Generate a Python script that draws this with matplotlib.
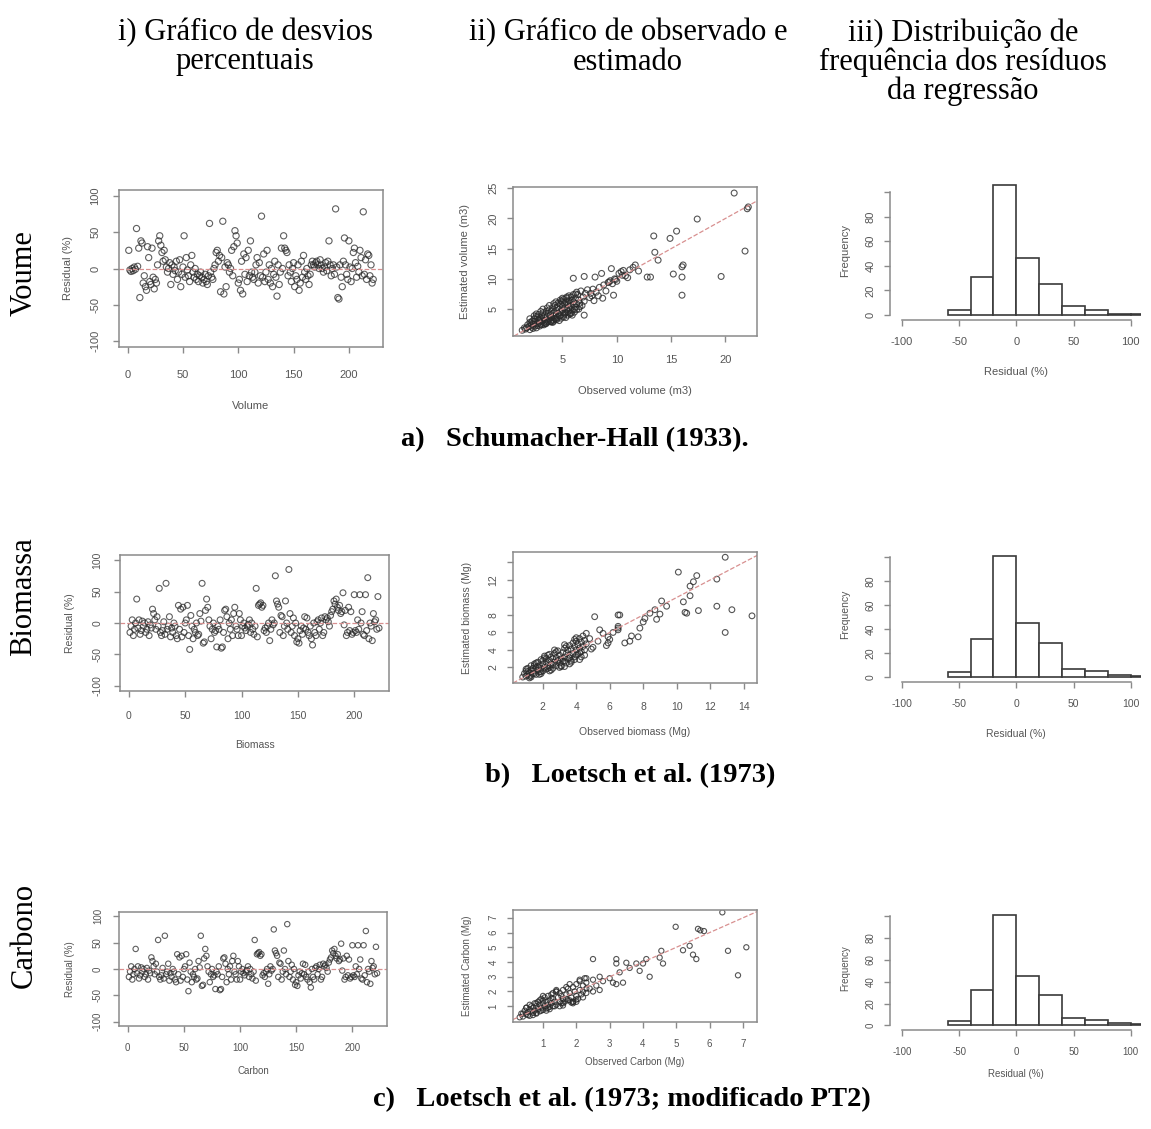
from matplotlib import pyplot as plt
import numpy as np

W, H = 1151, 1129

# ---- data ----
res_vol = [25, -2, -4, 0, -3, 2, -1, 55, 3, 28, -40, 38, 35, -20, -10, -25, -30, 30, 15, -18,
           -22, 28, -12, -28, -15, -20, 5, 38, 45, 32, 22, 10, 25, 12, 2, -5, 0, 8, -22, 5,
           -8, 2, -3, 10, -15, -5, 12, -25, -8, 2, 45, -12, 15, -2, -10, -18, 5, 18, -5, -12,
           0, -15, -8, -18, -10, -5, -12, -20, -15, -8, -18, -22, -10, 62, -5, -12, -15, 0, 5, 22,
           25, 10, 18, -32, 15, 65, -35, 2, -25, 8, 5, -5, 0, 25, -10, 30, 52, 45, 35, -20,
           -15, -30, 10, -35, 20, -8, 15, -18, 25, -10, 38, -5, -12, -15, -5, 5, 15, -20, 8, -10,
           72, -12, 20, -18, -5, 25, -15, 5, -20, 0, -25, -8, 10, -12, -38, 5, -22, -5, 28, 0,
           45, 28, 25, 22, -10, 5, -5, -18, 0, 8, -25, -10, -15, 5, -30, -20, 10, -12, 18, -5,
           -15, 0, -10, -22, -8, 5, 10, 5, 2, 8, 10, 5, 0, 12, 5, 0, -5, 2, 8, -3,
           10, 38, 5, -10, 0, 5, -8, 82, 2, -40, -42, 5, -12, -25, 10, 42, 5, -8, -15, 38,
           2, -18, 0, 22, 28, 8, -12, 3, -5, 25, 15, -10, 78, -8, 12, -15, 20, 18, -10, 5, -20, -15]

res_bio = [-15, -5, 5, -20, -10, 0, 38, -8, 5, -18, -12, 3, -5, 0, -15, -10, 2, -20, -3, -8,
           22, 15, 5, -10, 10, -5, 55, -15, -20, -12, 2, -18, 63, -10, -5, 10, -22, -8, -15, 0,
           -5, -20, -25, 28, -10, 22, -22, 25, -15, 0, 5, 28, -20, -42, 12, -5, -25, -10, -15, 0,
           -20, -18, 15, 3, 63, -32, -30, 20, 38, 25, 5, -5, -25, -10, 0, -15, -12, -38, -5, -10,
           5, -40, -38, -15, 20, 22, 10, -25, 0, -10, 5, -20, 15, 25, -5, -10, -20, 15, 5, -20,
           -5, 0, -8, -12, -5, -2, 5, -15, 0, -10, -18, -5, 55, -22, 28, 30, 32, 25, 28, -12,
           -8, -15, -5, 0, -28, -10, 5, -3, 0, 75, 35, 30, 25, -15, 12, 10, -20, -5, 35, 0,
           -10, 85, 15, -15, -5, 8, -20, 0, -30, -25, -32, -12, -5, -18, -8, 10, -10, 8, -15, -20,
           -5, -25, -35, 0, -15, -20, 2, 5, -10, 0, 8, -20, -15, 10, 5, 8, 2, -5, 12, 18,
           22, 35, 30, 38, 25, 20, 28, 15, 18, 48, -3, 20, -20, -15, 25, -12, 18, -18, -15, 45,
           -12, -15, 5, -10, 45, 0, 18, -18, -20, 45, -12, 72, -25, 0, -5, -28, 15, 2, 5, -10, 42, -8]

res_carb = res_bio  # the carbon residual panel shows the same points

vol_obs = [1.3, 1.5, 1.6, 1.8, 1.9, 2.0, 2.1, 2.2, 2.3, 2.4, 2.5, 2.5, 2.6, 2.7, 2.8, 2.8, 2.9, 3.0, 3.0, 3.1,
           3.2, 3.2, 3.3, 3.3, 3.4, 3.5, 3.5, 3.6, 3.6, 3.7, 3.8, 3.8, 3.9, 3.9, 4.0, 4.0, 4.1, 4.1, 4.2, 4.2,
           4.3, 4.3, 4.4, 4.4, 4.5, 4.5, 4.6, 4.6, 4.7, 4.7, 4.8, 4.8, 4.9, 4.9, 5.0, 5.0, 5.1, 5.1, 5.2, 5.2,
           5.3, 5.3, 5.4, 5.4, 5.5, 5.5, 5.6, 5.6, 5.7, 5.7, 5.8, 5.8, 5.9, 5.9, 6.0, 6.0, 6.1, 6.2, 6.2, 6.3,
           6.4, 6.5, 6.5, 6.6, 6.7, 6.8, 6.9, 7.0, 7.0, 7.1, 7.3, 7.5, 7.6, 7.8, 7.9, 8.0, 8.1, 8.3, 8.4, 8.6,
           8.7, 9.0, 9.2, 9.4, 9.5, 9.6, 9.7, 9.8, 10.0, 10.2, 10.4, 10.6, 10.8, 11.0, 11.5, 11.7, 12.0, 12.8, 13.1, 13.4,
           13.5, 13.8, 14.9, 15.2, 15.5, 16.0, 16.1, 16.0, 16.0, 17.4, 19.6, 20.8, 21.8, 22.1, 22.0,
           2.0, 2.2, 2.6, 2.4, 1.7, 3.1, 3.4, 2.7, 2.9, 3.7, 4.2, 4.8, 5.2, 4.0, 3.5, 5.5, 4.4, 6.1, 6.6, 5.8,
           6.0, 7.0, 8.8, 9.3, 9.9, 10.5, 11.2, 7.7, 6.3, 5.0,
           2.0, 2.3, 2.6, 2.9, 3.2, 3.5, 3.8, 4.1, 4.4, 4.7, 5.0, 5.3, 5.6, 5.9, 6.2,
           2.1, 2.4, 2.7, 3.0, 3.3, 3.6, 3.9, 4.2, 4.5, 4.8, 5.1, 5.4, 5.7, 6.0, 6.3]
vol_est = [1.5, 1.9, 1.7, 2.4, 2.1, 2.8, 2.3, 3.0, 2.6, 3.4, 2.2, 3.0, 3.8, 2.6, 3.2, 4.1, 2.9, 3.5, 2.5, 3.9,
           3.1, 4.4, 2.8, 3.6, 4.0, 3.2, 4.6, 2.9, 3.8, 4.3, 3.4, 4.9, 3.0, 4.1, 3.6, 4.6, 3.2, 5.2, 3.9, 4.4,
           3.4, 5.6, 4.0, 4.8, 3.6, 5.3, 4.3, 6.0, 3.8, 5.0, 4.5, 5.8, 3.5, 6.3, 4.8, 5.5, 4.0, 6.6, 5.1, 5.9,
           4.4, 6.2, 5.0, 6.8, 4.6, 5.7, 6.4, 5.2, 4.2, 6.0, 5.5, 7.0, 4.8, 6.5, 5.8, 6.2, 4.5, 6.8, 5.3, 5.9,
           7.4, 5.0, 6.5, 6.0, 8.0, 5.6, 7.0, 4.0, 6.3, 7.6, 8.2, 6.9, 7.6, 8.3, 6.4, 10.3, 7.8, 7.2, 8.6, 10.9,
           6.8, 8.0, 9.4, 9.7, 11.7, 9.2, 7.3, 10.0, 9.6, 10.9, 11.2, 11.4, 10.5, 10.2, 11.9, 12.3, 11.3, 10.3, 10.3, 17.1,
           14.4, 13.1, 16.7, 10.8, 17.9, 12.0, 12.3, 10.3, 7.3, 19.9, 10.4, 24.2, 14.6, 21.9, 21.6,
           1.6, 2.0, 1.9, 2.5, 1.9, 2.4, 2.6, 3.6, 3.3, 3.0, 3.0, 3.9, 4.3, 2.9, 2.7, 4.0, 3.3, 5.0, 5.4, 4.3,
           10.1, 10.4, 9.0, 9.5, 9.9, 10.6, 11.5, 7.2, 7.8, 6.1,
           3.4, 1.8, 4.2, 2.2, 5.0, 2.6, 5.6, 2.8, 6.2, 3.1, 6.8, 3.6, 7.2, 4.0, 7.5,
           2.7, 3.9, 2.3, 4.6, 2.4, 5.2, 2.9, 5.9, 3.3, 6.5, 3.7, 7.0, 4.4, 7.4, 4.9]

bio_obs = [0.8, 0.9, 1.0, 1.0, 1.1, 1.1, 1.2, 1.2, 1.3, 1.3, 1.4, 1.4, 1.5, 1.5, 1.6, 1.6, 1.7, 1.7, 1.8, 1.8,
           1.9, 1.9, 2.0, 2.0, 2.1, 2.1, 2.2, 2.2, 2.3, 2.3, 2.4, 2.4, 2.5, 2.5, 2.6, 2.6, 2.7, 2.7, 2.8, 2.8,
           2.9, 2.9, 3.0, 3.0, 3.1, 3.1, 3.2, 3.2, 3.3, 3.3, 3.4, 3.4, 3.5, 3.5, 3.6, 3.6, 3.7, 3.7, 3.8, 3.8,
           3.9, 3.9, 4.0, 4.0, 4.1, 4.1, 4.2, 4.2, 4.3, 4.3, 4.4, 4.4, 4.5, 4.5, 4.6, 4.6, 1.3, 1.5, 1.9, 2.3,
           2.6, 3.0, 3.3, 3.6, 4.0, 4.2, 1.1, 1.7, 2.0, 2.4, 3.3, 3.9,
           5.1, 6.5, 5.6, 5.9, 7.2, 7.7, 6.5, 6.6, 6.5, 6.5, 7.3, 6.9, 5.8, 6.0, 6.2, 5.9, 7.8, 8.0, 8.4, 8.1,
           8.8, 9.0, 9.4, 9.1, 8.7, 10.1, 11.2, 11.0, 10.8, 12.4, 10.8, 10.4, 12.4, 13.3, 14.5, 10.5, 10.6, 11.3, 12.9, 12.9,
           5.0, 5.3, 4.8, 4.9, 5.4,
           1.0, 1.3, 1.6, 1.9, 2.2, 2.5, 2.8, 3.1, 3.4, 3.7, 4.0, 4.3,
           1.2, 1.5, 1.8, 2.1, 2.4, 2.7, 3.0, 3.3, 3.6, 3.9, 4.2, 4.5]
bio_est = [0.9, 1.3, 1.0, 1.6, 1.2, 1.9, 1.4, 1.0, 1.7, 2.2, 1.3, 1.9, 1.6, 2.4, 1.2, 2.0, 1.7, 2.6, 1.5, 2.2,
           1.9, 2.9, 1.6, 2.4, 2.0, 3.1, 1.8, 2.6, 2.2, 3.4, 2.0, 2.8, 2.4, 3.2, 1.9, 3.0, 2.6, 3.6, 2.2, 3.1,
           2.8, 3.9, 2.5, 3.4, 3.0, 2.2, 3.7, 2.7, 4.2, 3.2, 2.5, 3.6, 4.0, 3.0, 4.5, 3.4, 2.8, 4.1, 3.6, 4.8,
           3.2, 4.4, 4.0, 5.0, 3.5, 4.6, 4.2, 5.3, 3.8, 4.9, 4.4, 5.6, 4.0, 5.1, 4.7, 5.9, 1.1, 1.3, 1.5, 1.9,
           2.3, 2.9, 2.7, 3.1, 3.4, 3.7, 1.5, 2.1, 2.8, 3.5, 2.1, 2.9,
           7.8, 8.0, 5.9, 4.8, 5.0, 5.5, 6.5, 8.0, 6.3, 6.7, 5.6, 4.8, 4.5, 5.2, 6.0, 5.5, 6.5, 7.2, 8.2, 7.6,
           7.5, 8.1, 9.0, 9.6, 8.6, 12.9, 12.5, 11.8, 11.3, 12.1, 10.2, 9.5, 9.0, 8.6, 7.9, 8.3, 8.2, 8.5, 6.0, 14.6,
           4.3, 5.0, 5.3, 4.1, 6.3,
           1.8, 0.9, 2.5, 1.3, 3.0, 1.7, 3.8, 2.1, 4.4, 2.6, 5.4, 3.2,
           0.8, 2.2, 1.2, 3.3, 1.6, 4.0, 2.0, 4.6, 2.4, 5.2, 2.9, 3.4]

carb_obs = [0.3, 0.35, 0.4, 0.45, 0.5, 0.5, 0.55, 0.6, 0.6, 0.65, 0.7, 0.7, 0.75, 0.75, 0.8, 0.8, 0.85, 0.85, 0.9, 0.9,
            0.95, 0.95, 1.0, 1.0, 1.05, 1.05, 1.1, 1.1, 1.15, 1.15, 1.2, 1.2, 1.25, 1.25, 1.3, 1.3, 1.35, 1.4, 1.4, 1.45,
            1.5, 1.5, 1.55, 1.55, 1.6, 1.6, 1.65, 1.7, 1.7, 1.75, 1.8, 1.8, 1.85, 1.9, 1.9, 1.95, 2.0, 2.0, 2.05, 2.1,
            2.1, 2.15, 2.2, 2.2, 2.25, 2.3, 2.3, 1.4, 1.9, 1.85, 0.4, 0.55, 0.65, 0.95, 1.15, 1.35, 1.6, 1.75, 2.0, 2.3,
            1.0, 1.25, 0.8, 2.4, 2.5,
            6.38, 4.98, 5.65, 5.72, 5.83, 6.55, 6.85, 4.55, 4.5, 4.6, 5.4, 5.2, 5.5, 5.6, 4.1, 4.0, 3.9, 4.2, 3.5, 3.2,
            3.2, 2.5, 3.3, 3.4, 3.0, 3.1, 3.2, 2.3, 2.5, 2.7, 2.7, 2.6, 2.8, 3.6, 3.8, 7.1,
            0.5, 0.7, 0.9, 1.1, 1.3, 1.5, 1.7, 1.9, 2.1, 0.6, 0.8, 1.0, 1.2, 1.4, 1.6, 1.8, 2.0, 2.2]
carb_est = [0.25, 0.5, 0.3, 0.7, 0.45, 0.9, 0.6, 0.35, 0.8, 1.0, 0.55, 0.9, 0.7, 1.2, 0.5, 1.0, 0.8, 1.3, 0.65, 1.1,
            0.9, 1.5, 0.75, 1.2, 1.0, 1.6, 0.85, 1.3, 1.1, 1.7, 0.95, 1.4, 1.2, 1.8, 1.0, 1.5, 1.3, 2.0, 1.1, 1.6,
            1.3, 1.9, 1.2, 1.7, 1.5, 2.1, 1.3, 1.8, 1.5, 2.2, 1.4, 1.9, 1.6, 2.3, 1.3, 2.0, 1.7, 2.5, 1.5, 2.1,
            2.7, 1.8, 2.4, 2.0, 2.9, 2.2, 2.6, 2.0, 1.3, 1.25, 0.5, 0.4, 0.65, 0.7, 0.9, 1.0, 1.2, 1.4, 1.45, 1.9,
            1.4, 1.55, 1.2, 2.2, 2.0,
            7.37, 6.39, 6.25, 6.15, 6.1, 4.76, 3.1, 4.76, 4.3, 3.9, 5.1, 4.8, 4.5, 4.2, 4.2, 3.9, 3.4, 3.0, 3.95, 3.9,
            4.2, 4.2, 3.3, 2.6, 2.9, 2.6, 2.5, 2.9, 2.8, 3.0, 2.1, 2.4, 2.7, 3.6, 3.9, 5.0,
            0.9, 0.4, 1.4, 0.7, 1.9, 1.0, 2.3, 1.2, 2.8, 1.1, 0.55, 1.7, 0.8, 2.1, 1.05, 2.5, 1.3, 1.6]

bin_edges = [-60, -40, -20, 0, 20, 40, 60, 80, 100, 120]
hist_vol = [4, 31, 106, 46, 25, 7, 4, 1, 1]
hist_bio = [4, 32, 101, 45, 28, 7, 5, 2, 1]
hist_carb = [4, 32, 101, 45, 28, 7, 5, 2, 1]

plt.rcParams['font.family'] = ['Liberation Sans', 'DejaVu Sans']
plt.rcParams['axes.unicode_minus'] = False

fig = plt.figure(figsize=(W / 100, H / 100), dpi=100)

AX_COL = '#8a8a8a'
TXT_COL = '#555555'
PT_COL = '#2a2a2a'
LINE_COL = '#d89090'


def px_axes(left, top, right, bottom):
    return fig.add_axes([left / W, 1 - bottom / H, (right - left) / W, (bottom - top) / H])


def style(ax, fs, xpad, ypad):
    for s in ax.spines.values():
        s.set_color(AX_COL)
        s.set_linewidth(1.1)
    ax.tick_params(colors=AX_COL, labelcolor=TXT_COL, labelsize=fs, length=4.5, width=1.0)
    ax.tick_params(axis='x', pad=xpad)
    ax.tick_params(axis='y', pad=ypad)
    for lab in ax.get_yticklabels():
        lab.set_rotation(90)
        lab.set_va('center')


def labels(ax, xl, yl, fs, box, ylab_x, xlab_y):
    left, top, right, bottom = box
    ax.set_xlabel(xl, fontsize=fs, color=TXT_COL)
    ax.set_ylabel(yl, fontsize=fs, color=TXT_COL)
    ax.yaxis.set_label_coords((ylab_x + 5 - left) / (right - left), 0.5)
    ax.xaxis.set_label_coords(0.5, (bottom - (xlab_y - 6)) / (bottom - top))


def resid_panel(box, res, xl, fs, ms, xpad, ypad, ylab_x, xlab_y):
    ax = px_axes(*box)
    x = np.arange(1, len(res) + 1)
    ax.scatter(x, res, s=ms, facecolors='none', edgecolors=PT_COL, linewidths=0.8, alpha=0.75)
    ax.axhline(0, color=LINE_COL, ls='--', lw=0.9)
    ax.set_xlim(-7.84, 230.84)
    ax.set_ylim(-108, 108)
    ax.set_xticks([0, 50, 100, 150, 200])
    ax.set_yticks([-100, -50, 0, 50, 100])
    style(ax, fs, xpad, ypad)
    labels(ax, xl, 'Residual (%)', fs, box, ylab_x, xlab_y)
    return ax


def scatter_panel(box, obs, est, xl, yl, lims, xt, yt, ytl, fs, ms, xpad, ypad, ylab_x, xlab_y):
    ax = px_axes(*box)
    ax.scatter(obs, est, s=ms, facecolors='none', edgecolors=PT_COL, linewidths=0.8, alpha=0.8)
    ax.axline((0, 0), slope=1, color=LINE_COL, ls='--', lw=0.9)
    ax.set_xlim(lims[0], lims[1])
    ax.set_ylim(lims[2], lims[3])
    ax.set_xticks(xt)
    ax.set_yticks(yt)
    ax.set_yticklabels(ytl)
    style(ax, fs, xpad, ypad)
    labels(ax, xl, yl, fs, box, ylab_x, xlab_y)
    return ax


def hist_panel(box, heights, ymax, fs, xpad, ypad, ylab_x, xlab_y):
    ax = px_axes(*box)
    ax.bar(bin_edges[:-1], heights, width=20, align='edge', facecolor='white',
           edgecolor='#3a3a3a', linewidth=1.2)
    ax.set_xlim(-110.5, 109)
    ax.set_ylim(-0.04 * ymax, 1.04 * ymax)
    ax.spines['top'].set_visible(False)
    ax.spines['right'].set_visible(False)
    ax.spines['left'].set_bounds(0, 100)
    ax.spines['bottom'].set_bounds(-100, 100)
    ax.set_xticks([-100, -50, 0, 50, 100])
    ax.set_yticks([0, 20, 40, 60, 80, 100])
    ax.set_yticklabels(['0', '20', '40', '60', '80', ''])
    style(ax, fs, xpad, ypad)
    labels(ax, 'Residual (%)', 'Frequency', fs, box, ylab_x, xlab_y)
    return ax


# row a
resid_panel((119, 190, 383, 347), res_vol, 'Volume', 8, 20, 12, 9, 68, 407)
scatter_panel((513, 187, 757, 336), vol_obs, vol_est, 'Observed volume (m3)', 'Estimated volume (m3)',
              (0.45, 22.9, 0.55, 25.2), [5, 10, 15, 20], [5, 10, 15, 20, 25],
              ['5', '10', '15', '20', '25'], 8, 18, 9, 6, 465, 392)
hist_panel((890, 181, 1141, 320), hist_vol, 105, 8, 8, 6, 845, 373)

# row b
resid_panel((120, 555, 389, 691), res_bio, 'Biomass', 7.5, 18, 10, 8, 70, 746)
scatter_panel((513, 552, 757, 683), bio_obs, bio_est, 'Observed biomass (Mg)', 'Estimated biomass (Mg)',
              (0.22, 14.8, 0.22, 15.2), [2, 4, 6, 8, 10, 12, 14], [2, 4, 6, 8, 10, 12, 14],
              ['2', '4', '6', '8', '', '12', ''], 7.5, 17, 9, 6, 467, 733)
hist_panel((890, 546, 1141, 682), hist_bio, 105, 7.5, 8, 6, 845, 735)

# row c
resid_panel((119, 912, 387, 1026), res_carb, 'Carbon', 7, 15, 8, 7, 70, 1072)
scatter_panel((513, 910, 757, 1022), carb_obs, carb_est, 'Observed Carbon (Mg)', 'Estimated Carbon (Mg)',
              (0.1, 7.42, -0.07, 7.53), [1, 2, 3, 4, 5, 6, 7], [1, 2, 3, 4, 5, 6, 7],
              ['1', '2', '3', '4', '5', '6', '7'], 7, 14, 8, 6, 467, 1063)
hist_panel((890, 906, 1141, 1030), hist_carb, 105, 7, 8, 6, 845, 1075)

# headers, row names, captions
serif = ['Liberation Serif', 'DejaVu Serif']
hfs = 22
heads = [(245, ['i) Gráfico de desvios', 'percentuais']),
         (628, ['ii) Gráfico de observado e', 'estimado']),
         (963, ['iii) Distribuição de', 'frequência dos resíduos', 'da regressão'])]
for xc, lines in heads:
    for k, line in enumerate(lines):
        fig.text(xc / W, 1 - (33 + 29 * k) / H, line, family=serif, fontsize=hfs,
                 ha='center', va='center')

for yc, name in [(273, 'Voume'), (597, 'Biomassa'), (935, 'Carbono')]:
    fig.text(24 / W, 1 - yc / H, name, family=serif, fontsize=22, rotation=90,
             ha='center', va='center')

for xc, yc, cap in [(575, 440, 'a)   Schumacher-Hall (1933).'),
                    (630, 776, 'b)   Loetsch et al. (1973)'),
                    (622, 1100, 'c)   Loetsch et al. (1973; modificado PT2)')]:
    fig.text(xc / W, 1 - yc / H, cap, family=serif, fontsize=20.5, fontweight='bold',
             ha='center', va='center')

plt.savefig('out.png', dpi=100)
